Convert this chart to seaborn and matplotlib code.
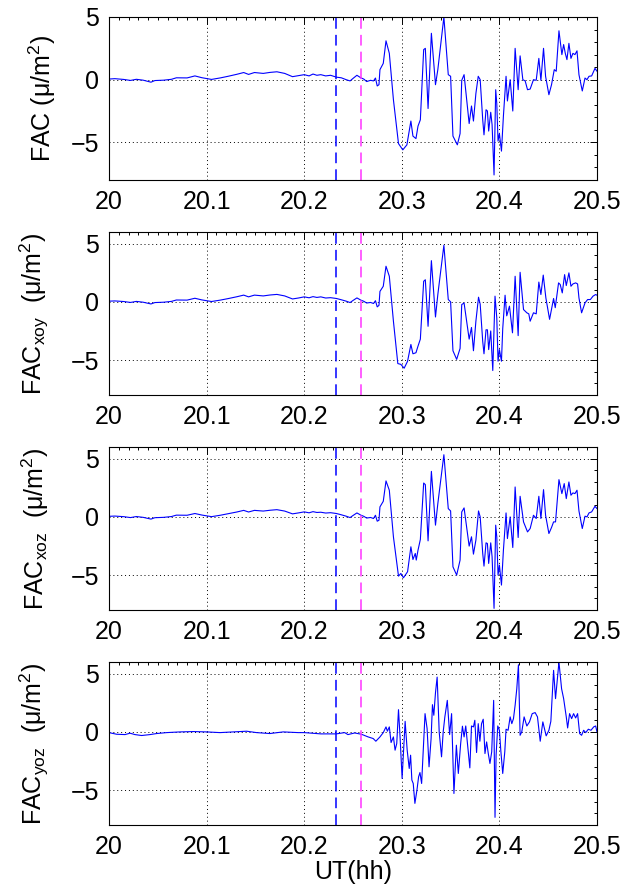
import matplotlib
matplotlib.use('Agg')
import matplotlib.pyplot as plt
import seaborn as sns
from matplotlib.ticker import MultipleLocator

# quiet interval (shared time base for the first three panels)
t_quiet = [20.000, 20.006, 20.015, 20.022, 20.028, 20.035, 20.043, 20.047, 20.056, 20.064,
           20.069, 20.080, 20.088, 20.095, 20.105, 20.114, 20.122, 20.131, 20.138, 20.143,
           20.149, 20.158, 20.165, 20.172, 20.180, 20.188, 20.194, 20.200, 20.205, 20.209,
           20.213, 20.217, 20.222, 20.227, 20.233, 20.238, 20.243, 20.247, 20.250, 20.254,
           20.258, 20.261, 20.264, 20.268, 20.271, 20.273]

fac_quiet = [0.05, 0.08, 0.02, -0.06, 0.03, -0.04, -0.20, -0.07, -0.04, 0.03,
             0.15, 0.14, 0.30, 0.16, 0.02, 0.14, 0.27, 0.43, 0.57, 0.42,
             0.57, 0.50, 0.58, 0.63, 0.50, 0.24, 0.32, 0.40, 0.30, 0.45,
             0.35, 0.40, 0.30, 0.35, 0.20, 0.15, 0.00, -0.10, 0.10, 0.35,
             0.15, 0.05, -0.15, -0.05, -0.10, 0.13]
xoy_quiet = [0.06, 0.08, 0.03, -0.05, 0.04, -0.03, -0.18, -0.06, -0.03, 0.04,
             0.16, 0.15, 0.31, 0.17, 0.03, 0.15, 0.28, 0.44, 0.58, 0.43,
             0.58, 0.51, 0.59, 0.64, 0.51, 0.25, 0.33, 0.43, 0.35, 0.45,
             0.38, 0.43, 0.33, 0.36, 0.29, 0.18, 0.06, -0.06, 0.12, 0.34,
             0.15, 0.05, -0.10, -0.05, -0.14, 0.10]
xoz_quiet = [0.05, 0.07, 0.02, -0.06, 0.03, -0.04, -0.19, -0.07, -0.04, 0.03,
             0.15, 0.14, 0.29, 0.16, 0.02, 0.14, 0.27, 0.42, 0.56, 0.42,
             0.56, 0.50, 0.57, 0.62, 0.50, 0.26, 0.34, 0.43, 0.35, 0.45,
             0.38, 0.40, 0.33, 0.36, 0.29, 0.18, 0.06, -0.06, 0.12, 0.34,
             0.15, 0.05, -0.10, -0.05, -0.14, 0.14]

# active interval, FAC
t_fac = [20.2748, 20.2766, 20.2776, 20.2810, 20.2838, 20.2872, 20.2914, 20.2966, 20.3010, 20.3052,
         20.3093, 20.3114, 20.3145, 20.3166, 20.3190, 20.3224, 20.3241, 20.3269, 20.3303, 20.3345,
         20.3369, 20.3431, 20.3476, 20.3500, 20.3524, 20.3569, 20.3597, 20.3614, 20.3638, 20.3690,
         20.3714, 20.3734, 20.3759, 20.3783, 20.3803,
         20.3829, 20.3842, 20.3863, 20.3877, 20.3890, 20.3911, 20.3925, 20.3945, 20.3962, 20.3973,
         20.3986, 20.4000, 20.4021, 20.4041, 20.4068, 20.4082, 20.4110, 20.4137, 20.4161, 20.4192,
         20.4212, 20.4240, 20.4264, 20.4288, 20.4315, 20.4349, 20.4377, 20.4404, 20.4425, 20.4452,
         20.4473, 20.4507, 20.4534, 20.4562, 20.4582, 20.4610, 20.4640, 20.4658, 20.4675, 20.4692,
         20.4712, 20.4733, 20.4753, 20.4774, 20.4795, 20.4815, 20.4849, 20.4877, 20.4897, 20.4918,
         20.4945, 20.4979, 20.5000]
fac = [-0.50, -0.40, 0.80, 1.30, 3.10, 2.10, -1.60, -5.10, -5.60, -5.20,
       -3.30, -4.50, -4.70, -3.70, -3.20, 2.40, 2.50, -2.30, 3.70, -0.40,
       0.80, 5.00, 0.40, 0.27, -4.50, -5.20, -4.30, -0.05, 0.40, -3.50,
       -2.10, -3.30, -1.10, 0.27, 0.00,
       -3.20, -4.40, -2.40, -2.50, -4.10, -2.60, -3.60, -7.60, -0.80, -1.90,
       -4.90, -4.30, -5.70, -2.90, 0.27, -1.70, 0.00, -2.50, 2.50, -0.80,
       1.90, 0.00, -0.10, -0.80, -0.75, 0.00, -0.05, 1.70, -0.05, 2.50,
       0.27, -1.20, -0.40, 0.80, 0.67, 3.90, 2.00, 2.80, 2.10, 1.60,
       2.90, 1.70, 2.10, 2.00, 2.30, 0.40, -0.90, 0.13, 0.00, 0.27,
       0.30, 0.90, 0.67]

# active interval, FAC_xoy
t_xoy = [20.2748, 20.2766, 20.2776, 20.2810, 20.2838, 20.2872, 20.2914, 20.2959, 20.2990, 20.3024,
         20.3059, 20.3093, 20.3114, 20.3145, 20.3166, 20.3190, 20.3224, 20.3241, 20.3269, 20.3303,
         20.3345, 20.3369, 20.3431, 20.3476, 20.3500, 20.3524, 20.3562, 20.3597, 20.3614, 20.3638,
         20.3690, 20.3714, 20.3734, 20.3759, 20.3786, 20.3803,
         20.3829, 20.3842, 20.3863, 20.3877, 20.3890, 20.3911, 20.3932, 20.3955, 20.3973, 20.3986,
         20.4000, 20.4021, 20.4034, 20.4058, 20.4075, 20.4103, 20.4134, 20.4161, 20.4192, 20.4212,
         20.4247, 20.4281, 20.4301, 20.4315, 20.4349, 20.4377, 20.4404, 20.4425, 20.4449, 20.4476,
         20.4514, 20.4555, 20.4572, 20.4606, 20.4623, 20.4644, 20.4668, 20.4685, 20.4712, 20.4733,
         20.4753, 20.4781, 20.4801, 20.4815, 20.4842, 20.4877, 20.4904, 20.4932, 20.4959, 20.4986,
         20.5000]
xoy = [-0.43, -0.30, 0.90, 1.34, 3.06, 2.20, -1.66, -5.30, -5.37, -5.70,
       -5.10, -3.66, -4.46, -4.37, -3.80, -3.20, 1.77, 1.90, -2.10, 3.54,
       -1.30, 0.63, 4.86, 0.20, 0.00, -4.20, -4.94, -4.00, -0.23, -0.10,
       -3.20, -2.20, -4.20, -1.66, 0.40, -0.20,
       -3.40, -4.46, -2.40, -2.40, -4.10, -2.50, -5.90, 0.49, -1.37, -5.10,
       -4.10, -5.10, -2.30, 0.57, -1.20, -0.37, -2.66, 2.20, -2.90, 2.54,
       -0.66, -0.94, -1.03, -1.66, -0.94, -1.03, 1.70, 0.63, 2.30, 0.34,
       -1.50, 0.29, -0.50, 1.63, 1.49, 0.77, 2.34, 1.40, 2.49, 1.34,
       1.54, 1.63, 1.54, 0.34, -0.94, -0.09, 0.20, 0.20, 0.49, 0.63,
       0.57]

# active interval, FAC_xoz
t_xoz = [20.2748, 20.2766, 20.2776, 20.2810, 20.2838, 20.2872, 20.2914, 20.2966, 20.2990, 20.3017,
         20.3059, 20.3093, 20.3114, 20.3138, 20.3148, 20.3166, 20.3190, 20.3224, 20.3241, 20.3269,
         20.3303, 20.3345, 20.3369, 20.3431, 20.3476, 20.3500, 20.3524, 20.3562, 20.3597, 20.3614,
         20.3638, 20.3690, 20.3714, 20.3734, 20.3759, 20.3786, 20.3803,
         20.3829, 20.3842, 20.3863, 20.3877, 20.3890, 20.3911, 20.3925, 20.3945, 20.3962, 20.3973,
         20.3986, 20.4000, 20.4021, 20.4041, 20.4068, 20.4082, 20.4110, 20.4137, 20.4161, 20.4192,
         20.4212, 20.4247, 20.4288, 20.4315, 20.4349, 20.4377, 20.4404, 20.4425, 20.4452, 20.4473,
         20.4507, 20.4534, 20.4555, 20.4575, 20.4610, 20.4640, 20.4664, 20.4685, 20.4712, 20.4733,
         20.4753, 20.4774, 20.4795, 20.4815, 20.4849, 20.4877, 20.4897, 20.4918, 20.4945, 20.4979,
         20.5000]
xoz = [-0.37, -0.29, 0.86, 1.34, 3.09, 2.29, -1.71, -5.09, -4.86, -5.23,
       -4.71, -2.57, -3.66, -3.14, -3.71, -2.86, -1.94, 2.91, 2.77, -2.06,
       3.91, -0.71, 1.14, 5.34, 0.71, 0.51, -4.29, -5.00, -3.71, 0.43,
       0.77, -2.51, -1.71, -3.20, -2.00, 0.51, 0.00,
       -3.14, -4.23, -2.23, -2.29, -4.00, -2.23, -3.43, -7.86, -0.71, -1.71,
       -5.00, -4.14, -5.86, -2.86, 0.34, -1.86, 0.00, -2.63, 2.57, -1.77,
       1.77, -0.43, -1.29, -1.00, 0.14, -0.14, 1.77, -0.14, 2.34, 0.14,
       -1.43, -0.91, -0.43, -0.43, 3.20, 2.00, 2.86, 1.57, 3.00, 1.86,
       2.06, 2.00, 2.29, 0.51, -1.00, 0.06, 0.00, 0.34, 0.43, 0.91,
       0.71]

# FAC_yoz, full interval
t_yoz = [20.0000, 20.0078, 20.0164, 20.0215, 20.0266, 20.0334, 20.0420, 20.0488, 20.0590, 20.0727,
         20.0863, 20.1000, 20.1137, 20.1273, 20.1410, 20.1512, 20.1648, 20.1785, 20.1939,
         20.2000, 20.2172, 20.2328, 20.2414, 20.2448, 20.2517, 20.2586, 20.2655, 20.2707, 20.2734,
         20.2776, 20.2810, 20.2838, 20.2852, 20.2872, 20.2890, 20.2914, 20.2931, 20.2948, 20.2966,
         20.2983, 20.3003, 20.3017, 20.3034, 20.3055, 20.3076, 20.3090, 20.3103, 20.3117, 20.3134,
         20.3155, 20.3172, 20.3186, 20.3203, 20.3217, 20.3238, 20.3259, 20.3279, 20.3300, 20.3314,
         20.3328, 20.3345, 20.3362, 20.3383, 20.3407, 20.3424, 20.3441, 20.3466, 20.3490, 20.3510,
         20.3534, 20.3559, 20.3579, 20.3603, 20.3621, 20.3638, 20.3655, 20.3672, 20.3697, 20.3714,
         20.3734, 20.3748, 20.3766, 20.3783, 20.3800, 20.3817, 20.3834, 20.3852, 20.3869, 20.3886,
         20.3903, 20.3921, 20.3941, 20.3955,
         20.3966, 20.3983, 20.4000, 20.4014, 20.4034, 20.4055, 20.4068, 20.4089, 20.4110, 20.4127,
         20.4144, 20.4161, 20.4178, 20.4195, 20.4212, 20.4229, 20.4253, 20.4281, 20.4308, 20.4336,
         20.4366, 20.4390, 20.4418, 20.4445, 20.4479, 20.4507, 20.4527, 20.4555, 20.4575, 20.4610,
         20.4637, 20.4658, 20.4685, 20.4699, 20.4719, 20.4740, 20.4760, 20.4781, 20.4801, 20.4822,
         20.4842, 20.4863, 20.4884, 20.4911, 20.4938, 20.4966, 20.4986, 20.5000]
yoz = [-0.06, -0.20, -0.23, -0.11, -0.23, -0.31, -0.23, -0.14, -0.06, 0.00,
       0.03, 0.00, -0.06, 0.00, 0.06, -0.06, -0.14, 0.00, -0.06,
       -0.06, -0.17, -0.17, -0.06, -0.23, -0.09, -0.20, -0.43, -0.57, -0.80,
       -0.43, -0.06, 0.43, 0.06, 0.43, -0.91, -0.43, -1.57, -1.00, 1.91,
       -0.57, -4.00, -1.71, 0.91, -1.57, -3.14, -2.00, -4.14, -4.43, -6.14,
       -5.00, -3.86, -3.49, -4.43, -2.00, 1.57, 0.29, -3.00, -0.57, 2.34,
       1.43, 3.37, 4.71, 0.00, -2.14, 0.00, 1.29, 2.71, -0.23, 1.57,
       -5.29, -1.14, -3.57, -1.00, 0.49, -0.43, 0.51, -0.91, -3.09, 0.51,
       0.43, 1.00, -1.77, 0.71, -0.80, 0.71, 1.09, -1.86, -0.86, -1.86,
       -2.71, -1.71, 2.71, -7.34,
       -2.00, 0.51, 0.14, -1.57, -3.57, -1.71, 0.23, 0.14, 1.29, 0.71,
       1.14, 2.29, 3.71, 5.77, -0.29, 0.00, 1.29, 0.51, 0.86, 1.57,
       1.66, 1.29, -0.80, 0.86, -0.34, 0.14, 0.91, 5.29, 2.86, 6.00,
       3.71, 2.86, 1.29, 0.34, 1.57, 1.14, 1.57, 1.20, 1.57, -0.14,
       -0.29, 0.14, -0.06, 0.23, 0.14, 0.43, 0.51, 0.00]

x_ticks = [20.0, 20.1, 20.2, 20.3, 20.4, 20.5]
x_tick_labels = ['20', '20.1', '20.2', '20.3', '20.4', '20.5']
y_ticks = [-5, 0, 5]
onset_blue = 20.2328
onset_magenta = 20.2586

sns.set_style('white')
plt.rcParams['font.family'] = ['Liberation Sans', 'DejaVu Sans']
plt.rcParams['mathtext.fontset'] = 'custom'
plt.rcParams['mathtext.rm'] = 'Liberation Sans'
plt.rcParams['mathtext.it'] = 'Liberation Sans:italic'
plt.rcParams['mathtext.default'] = 'regular'
plt.rcParams['text.color'] = 'black'
plt.rcParams['axes.labelcolor'] = 'black'
plt.rcParams['xtick.color'] = 'black'
plt.rcParams['ytick.color'] = 'black'

panels = [
    (t_quiet + t_fac, fac_quiet + fac, 'FAC (\u03bc/m$^2$)', (-8, 5), -0.105),
    (t_quiet + t_xoy, xoy_quiet + xoy, 'FAC$_{xoy}$  (\u03bc/m$^2$)', (-8, 6), -0.118),
    (t_quiet + t_xoz, xoz_quiet + xoz, 'FAC$_{xoz}$  (\u03bc/m$^2$)', (-8, 6), -0.118),
    (t_yoz, yoz, 'FAC$_{yoz}$  (\u03bc/m$^2$)', (-8, 6), -0.118),
]

fig = plt.figure(figsize=(6.36, 8.90), dpi=100)
bottoms = [0.7978, 0.5562, 0.3146, 0.0730]

for i, (t, v, label, ylim, lab_x) in enumerate(panels):
    ax = fig.add_axes([0.1714, bottoms[i], 0.7673, 0.1831])
    sns.lineplot(x=t, y=v, ax=ax, color='#0000ff', lw=0.8, sort=False, estimator=None)
    ax.axvline(onset_blue, color='#0000ff', ls=(0, (7, 4)), lw=1.1)
    ax.axvline(onset_magenta, color='#ff33ff', ls=(0, (7, 4)), lw=1.1)
    ax.set_xlim(20, 20.5)
    ax.set_ylim(*ylim)
    ax.set_xticks(x_ticks)
    ax.set_xticklabels(x_tick_labels)
    ax.set_yticks(y_ticks)
    ax.xaxis.set_minor_locator(MultipleLocator(0.01))
    ax.yaxis.set_minor_locator(MultipleLocator(1))
    ax.tick_params(which='both', direction='in', top=True, right=True,
                   labelsize=18, color='k', width=0.7)
    ax.tick_params(which='major', length=5, pad=7)
    ax.tick_params(which='minor', length=2.5)
    ax.grid(True, which='major', ls=(0, (1, 3)), color='k', lw=0.7)
    for s in ax.spines.values():
        s.set_color('k')
        s.set_linewidth(0.8)
    ax.set_ylabel(label, fontsize=18)
    ax.yaxis.set_label_coords(lab_x, 0.5)
    if i == 3:
        ax.set_xlabel('UT(hh)', fontsize=18, labelpad=1)
    else:
        ax.set_xlabel('')

fig.savefig('out.png', dpi=100)
